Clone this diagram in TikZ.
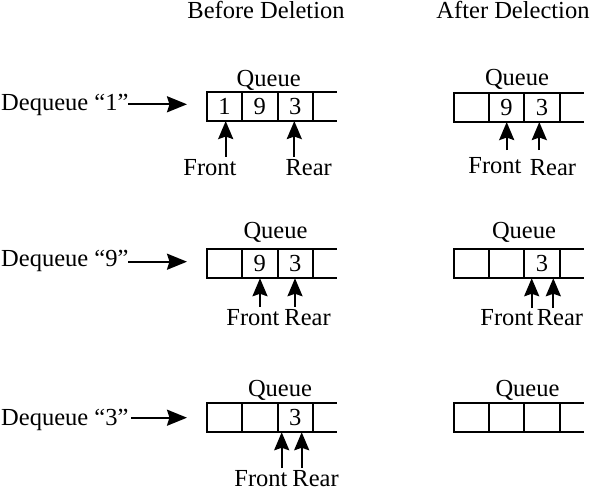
\documentclass[tikz,border=0pt]{standalone}
\usepackage{fontspec}
\setmainfont{Liberation Serif}
\usetikzlibrary{arrows.meta}
\newcommand\qrow[7]{%
  \node[cell] (#1a) at (#2,#3) {#4};
  \node[cell] (#1b) at (#1a.east) {#5};
  \node[cell] (#1c) at (#1b.east) {#6};
  \coordinate (#1t) at (#1c.north -| #7,0);
  \coordinate (#1u) at (#1c.south -| #7,0);
  \draw[ext] (#1c.north east) -- (#1t);
  \draw[ext] (#1c.south east) -- (#1u);
}
\begin{document}
\begin{tikzpicture}[x=1pt,y=-1pt,
  cell/.style={draw,line width=2pt,minimum width=35.4pt,minimum height=29.5pt,
    inner sep=0pt,outer sep=0pt,anchor=west,font=\fontsize{24.5}{28}\selectfont},
  lbl/.style={font=\fontsize{24.5}{28}\selectfont,inner sep=0pt,anchor=base},
  arr/.style={line width=2.2pt,-{Stealth[length=18pt,width=15pt,inset=2.5pt]}},
  harr/.style={line width=2.2pt,-{Stealth[length=20pt,width=16pt,inset=2.5pt]}},
  ext/.style={line width=2pt}]
\useasboundingbox (0,0) rectangle (590,490);

% headers
\node[lbl] (h1) at (266,18.5) {Before Deletion};
\node[lbl] (h2) at (513,18.5) {After Delection};

% Row 1
\node[lbl,anchor=base west] (d1) at (1,110) {Dequeue “1”};
\coordinate (d1s) at (128,104.3);
\coordinate (d1e) at (187,104.3);
\draw[harr] (d1s) -- (d1e);
\qrow{A}{206.7}{106.3}{1}{9}{3}{336.5}
\node[lbl] (qa) at (268.7,86.7) {Queue};
\node[lbl] (fa) at (210,175) {Front};
\node[lbl] (ra) at (308.7,175) {Rear};
\coordinate (fas) at (225.7,156.7);
\coordinate (ras) at (294.3,156.7);
\draw[arr] (fas) -- (fas |- Aa.south);
\draw[arr] (ras) -- (ras |- Ac.south);

\qrow{B}{453.5}{107.3}{}{9}{3}{584}
\node[lbl] (qb) at (517,85) {Queue};
\node[lbl] (fb) at (495,173) {Front};
\node[lbl] (rb) at (553,175) {Rear};
\coordinate (fbs) at (506.7,150);
\coordinate (rbs) at (539.3,150);
\draw[arr] (fbs) -- (fbs |- Bb.south);
\draw[arr] (rbs) -- (rbs |- Bc.south);

% Row 2
\node[lbl,anchor=base west] (d2) at (1,266.7) {Dequeue “9”};
\coordinate (d2s) at (128,261.7);
\coordinate (d2e) at (187,261.7);
\draw[harr] (d2s) -- (d2e);
\qrow{C}{206.7}{263.5}{}{9}{3}{336.5}
\node[lbl] (qc) at (275.5,238.3) {Queue};
\node[lbl] (fc) at (253,325) {Front};
\node[lbl] (rc) at (307.6,325) {Rear};
\coordinate (fcs) at (260,306.7);
\coordinate (rcs) at (295,306.7);
\draw[arr] (fcs) -- (fcs |- Cb.south);
\draw[arr] (rcs) -- (rcs |- Cc.south);

\qrow{D}{453.5}{263.5}{}{}{3}{584}
\node[lbl] (qd) at (524,238) {Queue};
\node[lbl] (fd) at (507,325) {Front};
\node[lbl] (rd) at (560,325) {Rear};
\coordinate (fds) at (531.7,308);
\coordinate (rds) at (553.3,308);
\draw[arr] (fds) -- (fds |- Dc.south);
\draw[arr] (rds) -- (rds |- Dc.south);

% Row 3
\node[lbl,anchor=base west] (d3) at (1,425) {Dequeue “3”};
\coordinate (d3s) at (131,417.7);
\coordinate (d3e) at (187,417.7);
\draw[harr] (d3s) -- (d3e);
\qrow{E}{206.7}{417.5}{}{}{3}{336.5}
\node[lbl] (qe) at (280,396.7) {Queue};
\node[lbl] (fe) at (261,486) {Front};
\node[lbl] (re) at (315.6,486) {Rear};
\coordinate (fes) at (281.7,468);
\coordinate (res) at (301.7,468);
\draw[arr] (fes) -- (fes |- Ec.south);
\draw[arr] (res) -- (res |- Ec.south);

\qrow{F}{453.5}{417.5}{}{}{}{584}
\node[lbl] (qf) at (527.5,396.7) {Queue};
\end{tikzpicture}
\end{document}
